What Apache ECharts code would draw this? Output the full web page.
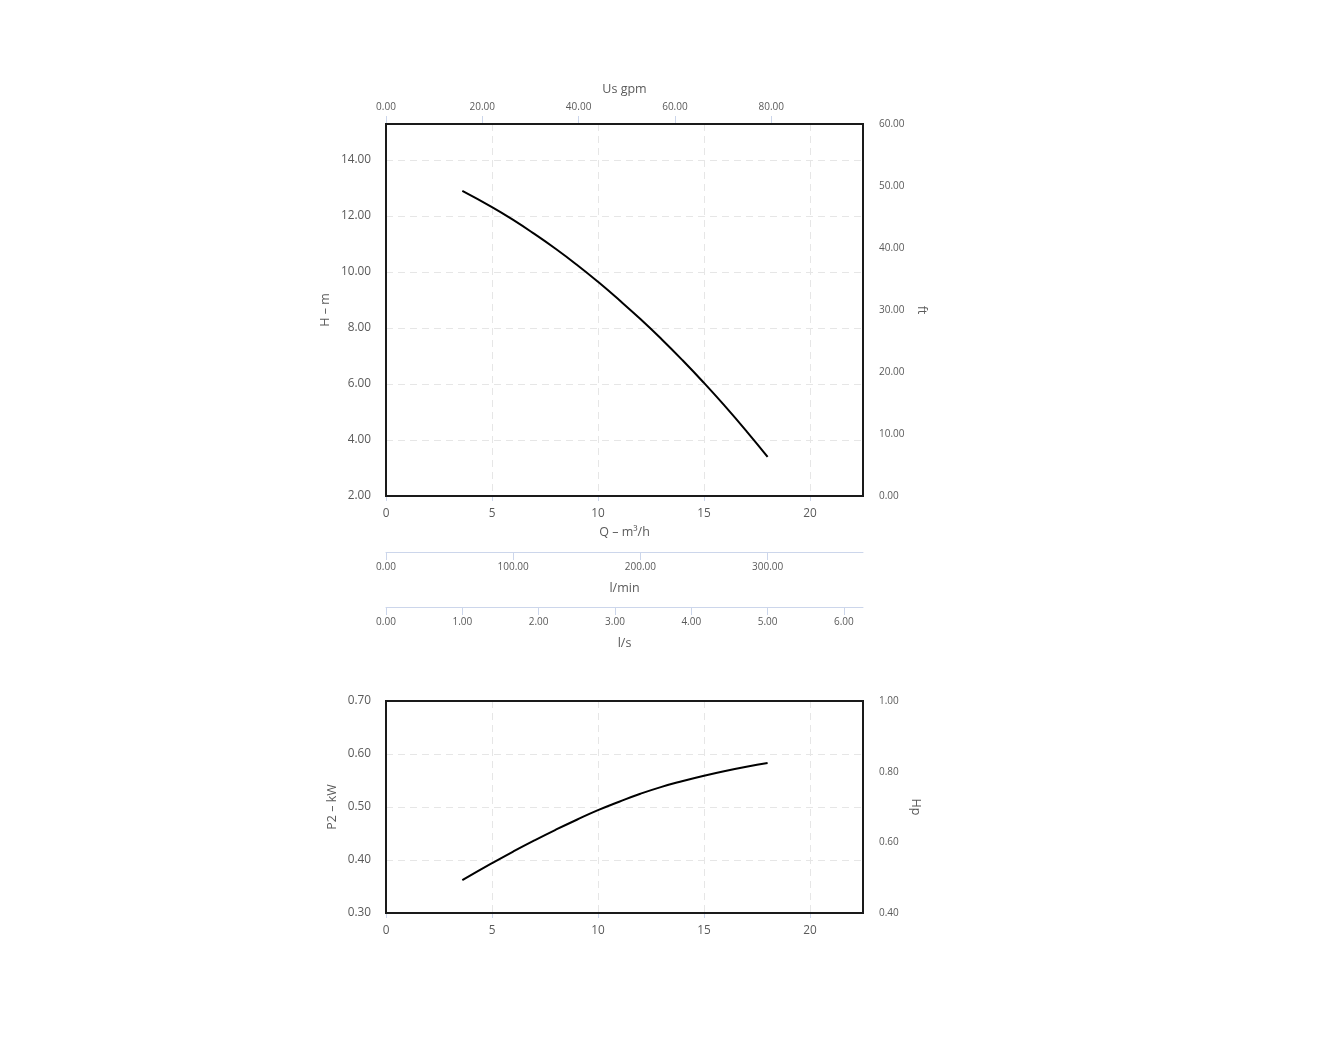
<!DOCTYPE html>
<html>
<head>
<meta charset="utf-8">
<script src="https://cdn.jsdelivr.net/npm/echarts@6/dist/echarts.min.js"></script>
<style>
html,body{margin:0;padding:0;background:#fff;}
#c{width:1329px;height:1039px;}
</style>
</head>
<body>
<div id="c"></div>
<script>
// ---- data ----
const flowQ = [3.6, 5, 6, 7, 8, 9, 10, 11, 12, 13, 14, 15, 16, 17, 18];          // m3/h
const headH = [12.90, 12.32, 11.86, 11.36, 10.83, 10.26, 9.65, 9.00, 8.32, 7.60, 6.84, 6.04, 5.20, 4.32, 3.40]; // m
const powerP2 = [0.362, 0.394, 0.416, 0.437, 0.457, 0.476, 0.494, 0.510, 0.525, 0.538, 0.549, 0.559, 0.568, 0.576, 0.583]; // kW

const qTicks = [0, 5, 10, 15, 20];
const hTicks = [2, 4, 6, 8, 10, 12, 14];
const ftTicks = [0, 10, 20, 30, 40, 50, 60];
const gpmTicks = [0, 20, 40, 60, 80];
const lminTicks = [0, 100, 200, 300];
const lsTicks = [0, 1, 2, 3, 4, 5, 6];
const p2Ticks = [0.3, 0.4, 0.5, 0.6, 0.7];
const hpTicks = [0.4, 0.6, 0.8, 1.0];

const qMax = 22.5, hMin = 2, hMax = 15.286, ftMax = 60;
const gpmMax = 99.06, lminMax = 375, lsMax = 6.25;
const p2Min = 0.3, p2Max = 0.7, hpMin = 0.4, hpMax = 1.0;

const FONT = 'Open Sans';
const TXT = '#5a5a5a';
const TICKC = '#ccd6eb';
const GRIDC = '#e6e6e6';
const BIG = 11.8, SMALL = 10, NAME = 12.5;
const f2 = v => Number(v).toFixed(2);

const splitDashed = {show: true, lineStyle: {color: GRIDC, type: [7, 5], width: 1}};

function pairs(xs, ys) { return xs.map((x, i) => [x, ys[i]]); }

const chart = echarts.init(document.getElementById('c'), null, {renderer: 'canvas'});
chart.setOption({
  animation: false,
  backgroundColor: '#ffffff',
  textStyle: {fontFamily: FONT},
  grid: [
    {left: 386, top: 124, width: 477, height: 372, show: true, z: 10, borderColor: '#1a1a1a', borderWidth: 2, backgroundColor: 'transparent'},
    {left: 386, top: 701, width: 477, height: 212, show: true, z: 10, borderColor: '#1a1a1a', borderWidth: 2, backgroundColor: 'transparent'}
  ],
  xAxis: [
    { // Q m3/h main
      type: 'value', gridIndex: 0, position: 'bottom', min: 0, max: qMax,
      name: 'Q – m³/h', nameLocation: 'middle', nameGap: 30,
      nameTextStyle: {color: TXT, fontSize: NAME, fontFamily: FONT},
      axisLine: {show: false},
      axisTick: {show: true, length: 5, lineStyle: {color: TICKC}, customValues: qTicks},
      axisLabel: {color: TXT, fontSize: BIG, fontFamily: FONT, margin: 12, customValues: qTicks, formatter: v => String(v)},
      splitLine: splitDashed
    },
    { // US gpm top
      type: 'value', gridIndex: 0, position: 'top', min: 0, max: gpmMax,
      name: 'Us gpm', nameLocation: 'middle', nameGap: 28,
      nameTextStyle: {color: TXT, fontSize: NAME, fontFamily: FONT},
      axisLine: {show: false},
      axisTick: {show: true, inside: false, length: 8, lineStyle: {color: TICKC}, customValues: gpmTicks},
      axisLabel: {color: TXT, fontSize: SMALL, fontFamily: FONT, margin: 12, customValues: gpmTicks, formatter: f2},
      splitLine: {show: false}
    },
    { // l/min
      type: 'value', gridIndex: 0, position: 'bottom', offset: 56, min: 0, max: lminMax,
      name: 'l/min', nameLocation: 'middle', nameGap: 30,
      nameTextStyle: {color: TXT, fontSize: NAME, fontFamily: FONT},
      axisLine: {show: true, lineStyle: {color: TICKC, width: 1}},
      axisTick: {show: true, inside: false, length: 8, lineStyle: {color: TICKC}, customValues: lminTicks},
      axisLabel: {color: TXT, fontSize: SMALL, fontFamily: FONT, margin: 10, customValues: lminTicks, formatter: f2},
      splitLine: {show: false}
    },
    { // l/s
      type: 'value', gridIndex: 0, position: 'bottom', offset: 111, min: 0, max: lsMax,
      name: 'l/s', nameLocation: 'middle', nameGap: 30,
      nameTextStyle: {color: TXT, fontSize: NAME, fontFamily: FONT},
      axisLine: {show: true, lineStyle: {color: TICKC, width: 1}},
      axisTick: {show: true, inside: false, length: 8, lineStyle: {color: TICKC}, customValues: lsTicks},
      axisLabel: {color: TXT, fontSize: SMALL, fontFamily: FONT, margin: 10, customValues: lsTicks, formatter: f2},
      splitLine: {show: false}
    },
    { // Q for power chart
      type: 'value', gridIndex: 1, position: 'bottom', min: 0, max: qMax,
      axisLine: {show: false},
      axisTick: {show: true, length: 5, lineStyle: {color: TICKC}, customValues: qTicks},
      axisLabel: {color: TXT, fontSize: BIG, fontFamily: FONT, margin: 12, customValues: qTicks, formatter: v => String(v)},
      splitLine: splitDashed
    }
  ],
  yAxis: [
    { // H m
      type: 'value', gridIndex: 0, position: 'left', min: hMin, max: hMax,
      name: 'H – m', nameLocation: 'middle', nameGap: 54,
      nameTextStyle: {color: TXT, fontSize: NAME, fontFamily: FONT},
      axisLine: {show: false}, axisTick: {show: false, customValues: hTicks},
      axisLabel: {color: TXT, fontSize: BIG, fontFamily: FONT, margin: 15, padding: [4, 0, 0, 0], customValues: hTicks, formatter: f2},
      splitLine: splitDashed
    },
    { // ft
      type: 'value', gridIndex: 0, position: 'right', min: 0, max: ftMax,
      name: 'ft', nameLocation: 'middle', nameGap: 52, nameRotate: -90,
      nameTextStyle: {color: TXT, fontSize: NAME, fontFamily: FONT},
      axisLine: {show: false}, axisTick: {show: false, customValues: ftTicks},
      axisLabel: {color: TXT, fontSize: SMALL, fontFamily: FONT, margin: 16, padding: [2, 0, 0, 0], customValues: ftTicks, formatter: f2},
      splitLine: {show: false}
    },
    { // P2 kW
      type: 'value', gridIndex: 1, position: 'left', min: p2Min, max: p2Max,
      name: 'P2 – kW', nameLocation: 'middle', nameGap: 47,
      nameTextStyle: {color: TXT, fontSize: NAME, fontFamily: FONT},
      axisLine: {show: false}, axisTick: {show: false, customValues: p2Ticks},
      axisLabel: {color: TXT, fontSize: BIG, fontFamily: FONT, margin: 15, padding: [4, 0, 0, 0], customValues: p2Ticks, formatter: f2},
      splitLine: splitDashed
    },
    { // Hp
      type: 'value', gridIndex: 1, position: 'right', min: hpMin, max: hpMax,
      name: 'Hp', nameLocation: 'middle', nameGap: 46, nameRotate: -90,
      nameTextStyle: {color: TXT, fontSize: NAME, fontFamily: FONT},
      axisLine: {show: false}, axisTick: {show: false, customValues: hpTicks},
      axisLabel: {color: TXT, fontSize: SMALL, fontFamily: FONT, margin: 16, padding: [2, 0, 0, 0], customValues: hpTicks, formatter: f2},
      splitLine: {show: false}
    }
  ],
  series: [
    {
      type: 'line', name: 'H', xAxisIndex: 0, yAxisIndex: 0,
      data: pairs(flowQ, headH), smooth: true, showSymbol: false, symbol: 'none',
      lineStyle: {color: '#000', width: 2}
    },
    {
      type: 'line', name: 'P2', xAxisIndex: 4, yAxisIndex: 2,
      data: pairs(flowQ, powerP2), smooth: true, showSymbol: false, symbol: 'none',
      lineStyle: {color: '#000', width: 2}
    }
  ]
});
</script>
</body>
</html>
